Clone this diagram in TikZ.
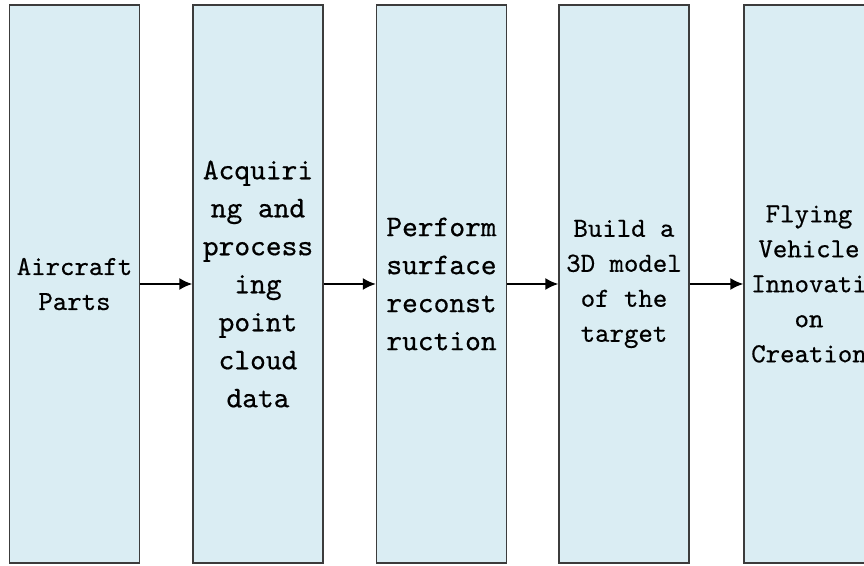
\documentclass[tikz,border=0pt]{standalone}
\usepackage{fontspec}
\newfontfamily\boxfont[FakeBold=0.5]{lmmono10-regular.otf}
\usetikzlibrary{arrows.meta}
\definecolor{boxfill}{RGB}{218,237,243}
\definecolor{boxline}{RGB}{60,60,60}
\tikzset{
  stagebox/.style={draw=boxline, line width=1.5pt, fill=boxfill, rectangle,
    minimum width=130pt, minimum height=558pt, inner sep=0pt, align=center},
  big/.style={font=\boxfont\fontsize{30}{38}\selectfont},
  small/.style={font=\boxfont\fontsize{27.5}{35}\selectfont},
  flow/.style={line width=1.5pt, -{Latex[length=13pt,width=12pt]}}
}
\begin{document}
\begin{tikzpicture}[x=1pt,y=1pt]
\useasboundingbox (0,0) rectangle (864,565);
\begin{scope}
\clip (0,0) rectangle (864,565);
\node[stagebox, small] (b1) at (74.5,281) {Aircraft\\Parts};
\node[stagebox, big] (b2) at (258,281) {Acquiri\\ng and\\process\\ing\\point\\cloud\\data};
\node[stagebox, big] (b3) at (441.5,281) {Perform\\surface\\reconst\\ruction};
\node[stagebox, small] (b4) at (624,281) {Build a\\3D model\\of the\\target};
\node[stagebox, small] (b5) at (809,281) {Flying\\Vehicle\\Innovati\\on\\Creation};
\draw[flow] (b1.east) -- (b2.west);
\draw[flow] (b2.east) -- (b3.west);
\draw[flow] (b3.east) -- (b4.west);
\draw[flow] (b4.east) -- (b5.west);
\end{scope}
\end{tikzpicture}
\end{document}
